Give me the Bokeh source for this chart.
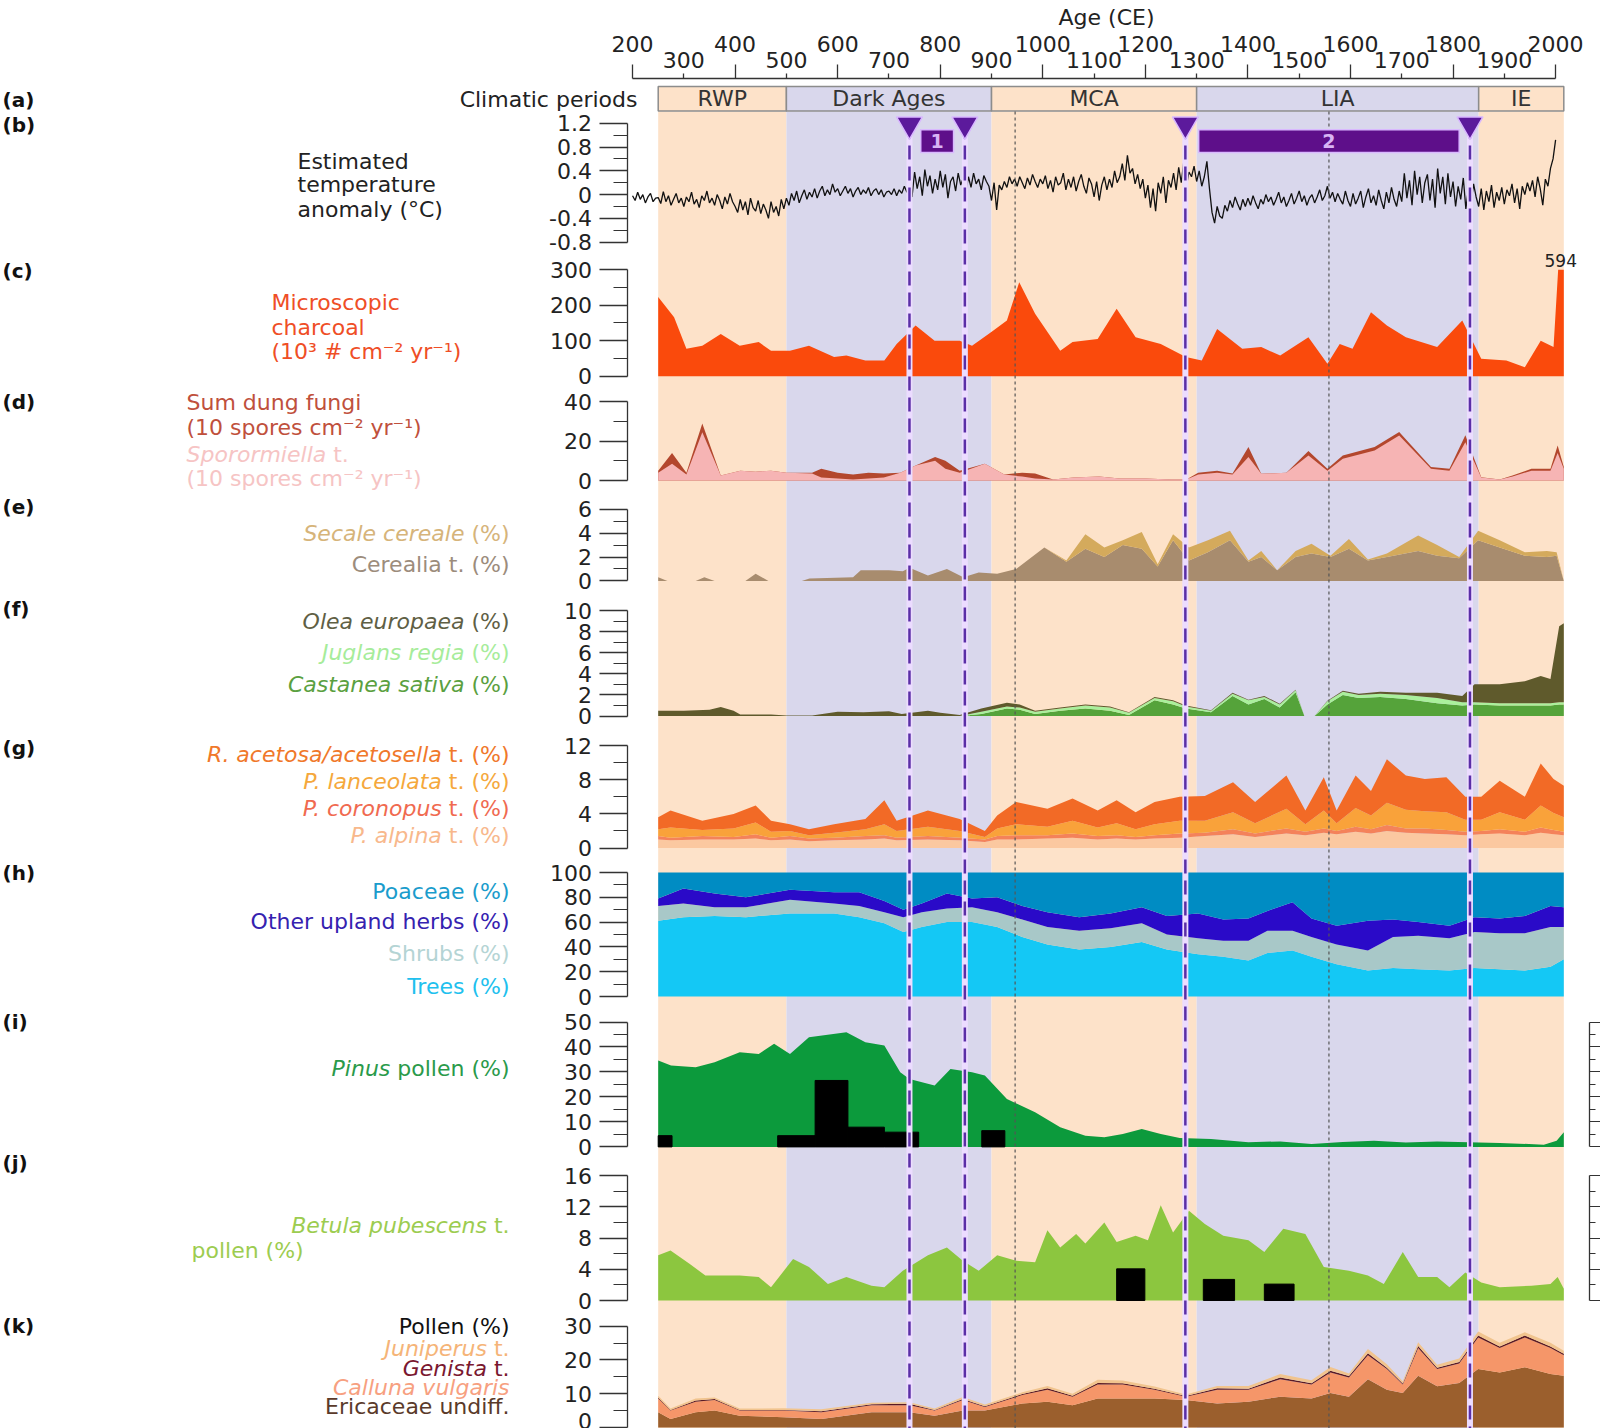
import numpy as np
from bokeh.plotting import figure
from bokeh.models import Range1d, LinearAxis, FixedTicker, BoxAnnotation, Label, ColumnDataSource
from bokeh.embed import file_html
from bokeh.resources import INLINE
from bokeh.core.properties import value

FONT = "DejaVu Sans"
WARM = "#fde2c9"
COLD = "#d9d7ec"
AX = "#333333"

# ---------------------------------------------------------------- data
age_major = [200, 400, 600, 800, 1000, 1200, 1400, 1600, 1800, 2000]
age_minor = [300, 500, 700, 900, 1100, 1300, 1500, 1700, 1900]

period_names = ["RWP", "Dark Ages", "MCA", "LIA", "IE"]
period_start = [250, 500, 900, 1300, 1850]
period_end = [500, 900, 1300, 1850, 2016]
period_warm = [True, False, True, False, True]

event_years = [740, 848, 1278, 1833]
event_box_start = [762, 1304]
event_box_end = [826, 1812]
event_box_label = ["1", "2"]
dotted_years = [946, 1558]

temp_year = list(range(200, 2001, 5))
temp_anom = [
    -0.02, -0.10, 0.04, -0.08, 0.00, -0.14, -0.04, 0.02, -0.12, -0.06,
    -0.05, -0.15, 0.05, -0.12, -0.02, -0.18, -0.08, 0.02, -0.14, -0.06,
    -0.20, -0.04, -0.12, 0.04, -0.16, -0.08, -0.22, -0.02, -0.10, 0.06,
    -0.14, -0.06, -0.18, 0.00, -0.10, -0.24, -0.04, -0.16, 0.02, -0.12,
    -0.20, -0.30, -0.08, -0.26, -0.12, -0.34, -0.06, -0.22, -0.28, -0.10,
    -0.32, -0.16, -0.26, -0.40, -0.12, -0.30, -0.20, -0.36, -0.08, -0.24,
    -0.06, -0.18, 0.02, -0.10, 0.06, -0.14, -0.02, 0.08, -0.08, 0.04,
    -0.04, 0.10, -0.06, 0.06, 0.14, -0.02, 0.08, 0.00, 0.18, 0.04,
    0.10, -0.02, 0.06, 0.14, 0.02, 0.10, -0.04, 0.06, 0.12, 0.00,
    0.08, 0.02, 0.12, -0.02, 0.06, 0.10, 0.00, 0.08, -0.04, 0.04,
    0.06, 0.00, 0.10, -0.02, 0.08, 0.02, 0.14, 0.04, 0.10, -0.04,
    0.38, 0.10, 0.30, -0.02, 0.42, 0.14, 0.32, 0.02, 0.26, 0.08,
    0.40, 0.12, 0.34, -0.06, 0.22, 0.30, 0.06, 0.36, 0.16, 0.28,
    0.04, 0.30, 0.12, 0.36, 0.18, 0.26, 0.08, 0.32, 0.22, 0.14,
    -0.10, 0.20, -0.26, 0.16, 0.08, 0.22, 0.12, 0.30, 0.18, 0.26,
    0.14, 0.30, 0.20, 0.10, 0.28, 0.16, 0.34, 0.22, 0.12, 0.26,
    0.18, 0.32, 0.10, 0.24, 0.04, 0.30, 0.16, 0.20, 0.36, 0.08,
    0.26, 0.12, 0.30, 0.06, 0.22, 0.34, 0.14, 0.02, 0.28, 0.18,
    -0.04, 0.22, -0.10, 0.16, 0.30, 0.08, 0.26, 0.12, 0.40, 0.20,
    0.30, 0.52, 0.24, 0.66, 0.36, 0.44, 0.18, 0.34, 0.10, 0.26,
    -0.06, 0.16, -0.22, 0.10, -0.28, 0.20, 0.02, 0.30, -0.14, 0.24,
    0.12, 0.36, 0.08, 0.46, 0.20, 0.56, 0.14, 0.38, 0.30, 0.48,
    0.22, 0.40, 0.14, 0.30, 0.56, 0.10, -0.30, -0.48, -0.20, -0.36,
    -0.40, -0.18, -0.28, -0.10, -0.22, -0.04, -0.16, -0.26, -0.08, -0.20,
    -0.06, -0.18, -0.02, -0.14, -0.24, -0.08, -0.16, 0.00, -0.12, -0.04,
    -0.18, -0.08, 0.04, -0.14, -0.04, -0.20, -0.10, 0.02, -0.16, -0.06,
    0.06, -0.12, -0.02, -0.18, -0.06, 0.00, -0.14, -0.04, 0.08, -0.10,
    -0.02, 0.14, -0.06, 0.04, -0.12, 0.02, -0.08, -0.16, 0.06, -0.10,
    -0.20, 0.02, -0.16, -0.06, 0.06, -0.22, -0.04, 0.10, -0.14, -0.02,
    -0.18, 0.08, -0.10, -0.24, 0.04, -0.14, 0.12, -0.08, -0.20, 0.06,
    -0.12, 0.36, -0.06, 0.24, -0.18, 0.40, 0.00, 0.30, -0.14, 0.20,
    0.34, -0.10, 0.26, -0.22, 0.44, 0.02, 0.30, -0.16, 0.36, -0.04,
    0.22, -0.20, 0.14, -0.08, 0.28, -0.24, 0.10, -0.14, 0.18, -0.04,
    -0.20, 0.10, -0.26, 0.06, -0.12, 0.16, -0.22, 0.04, -0.10, 0.12,
    -0.16, 0.08, -0.02, 0.18, -0.14, 0.10, -0.24, 0.14, 0.00, 0.20,
    0.06, 0.24, -0.04, 0.30, 0.10, -0.18, 0.26, 0.14, 0.44, 0.60,
    0.92,
]

charcoal_year = [250, 281, 305, 336, 372, 409, 446, 470, 507, 544,
                 593, 617, 654, 691, 715, 752, 789, 838, 862, 899,
                 930, 954, 985, 1034, 1058, 1107, 1144, 1181, 1230, 1279,
                 1310, 1340, 1389, 1426, 1463, 1518, 1555, 1579, 1604, 1640,
                 1671, 1708, 1769, 1818, 1855, 1904, 1940, 1971, 1996, 2005, 2016]
charcoal = [223, 166, 77, 86, 119, 86, 96, 72, 72, 86,
            54, 58, 44, 44, 91, 143, 100, 100, 86, 124,
            157, 265, 176, 72, 96, 105, 190, 110, 91, 54,
            44, 133, 77, 82, 58, 110, 35, 91, 77, 180,
            143, 110, 82, 157, 49, 44, 25, 100, 82, 594, 594]
charcoal_axis_max = 300

dung_year = [250, 277, 305, 336, 372, 410, 440, 470, 500, 550,
             568, 600, 630, 660, 690, 722, 752, 790, 810, 838,
             887, 925, 960, 985, 1020, 1060, 1110, 1150, 1200, 1250,
             1280, 1303, 1340, 1370, 1401, 1426, 1475, 1518, 1555, 1585,
             1647, 1695, 1757, 1793, 1824, 1855, 1891, 1916, 1953, 1990,
             2004, 2016]
dung_sum = [5, 14, 4, 29, 2.5, 5, 4.5, 5, 4, 4,
            6, 4, 3, 4, 3.5, 4, 7.6, 12, 10, 5,
            8.5, 3, 4, 3.5, 0.5, 1.5, 2, 1, 1, 0.5,
            0.5, 4, 5, 3.5, 17, 3.4, 4, 15, 6, 12.7,
            17, 24.6, 6.8, 6, 23, 1.7, 0.5, 2.5, 6, 6,
            17.8, 6.8]
sporormiella = [4, 8.5, 3, 24.5, 2.5, 5, 4.5, 5, 4, 3.5,
                1.5, 1, 0.5, 1, 1.5, 4, 7.6, 10, 6, 4,
                8.5, 3, 2, 1, 0.5, 1.5, 2, 1, 1, 0.5,
                0.5, 3, 4, 3, 12, 3.4, 4, 12.7, 5, 11,
                15.3, 22.9, 6, 5, 19.5, 1.5, 0.5, 2, 5, 5,
                14, 6]

cereal_year = [250, 268, 323, 340, 360, 420, 440, 465, 530, 545,
               630, 645, 700, 727, 740, 776, 813, 845, 875, 911,
               948, 1003, 1046, 1083, 1120, 1156, 1193, 1224, 1254, 1285,
               1322, 1365, 1401, 1426, 1457, 1493, 1524, 1561, 1597, 1634,
               1671, 1732, 1769, 1812, 1849, 1891, 1940, 1983, 2002, 2016]
cerealia = [0.3, 0, 0, 0.3, 0, 0, 0.6, 0, 0, 0.2,
            0.3, 0.9, 0.9, 0.8, 1.1, 0.45, 1.0, 0.3, 0.7, 0.6,
            1.0, 2.8, 1.6, 2.7, 2.0, 3.0, 2.7, 1.2, 3.4, 1.7,
            2.4, 3.4, 1.6, 2.0, 0.9, 2.0, 2.3, 2.0, 2.7, 1.7,
            2.0, 2.5, 2.1, 1.9, 3.4, 2.8, 2.1, 2.0, 2.1, 0]
secale = [0, 0, 0, 0, 0, 0, 0, 0, 0, 0,
          0, 0, 0, 0, 0, 0, 0, 0, 0, 0,
          0, 0, 0.1, 1.2, 0.8, 0.4, 1.4, 0.2, 0.5, 1.1,
          1.0, 0.8, 0.1, 0.5, 0, 0.5, 0.8, 0.1, 0.8, 0.1,
          0.3, 1.3, 0.9, 0.1, 0.8, 0.6, 0.3, 0.5, 0.3, 0]

crop_tree_year = [250, 300, 350, 372, 397, 410, 470, 500, 550, 600,
                  650, 700, 725, 776, 800, 838, 880, 930, 955, 985,
                  1034, 1083, 1131, 1168, 1218, 1254, 1279, 1328, 1370, 1401,
                  1432, 1462, 1493, 1510, 1530, 1555, 1585, 1616, 1658, 1708,
                  1769, 1818, 1842, 1891, 1940, 1971, 1990, 2007, 2016]
castanea = [0, 0, 0, 0, 0, 0, 0, 0, 0, 0,
            0, 0, 0, 0, 0, 0, 0.2, 0.7, 0.6, 0.2,
            0.5, 0.7, 0.5, 0.1, 1.5, 1.1, 0.7, 0.35, 1.9, 1.1,
            1.6, 0.8, 2.25, 0, 0, 1.1, 2.0, 1.7, 1.8, 1.6,
            1.2, 1.0, 1.1, 1.0, 1.0, 1.0, 1.0, 1.1, 1.1]
juglans = [0, 0, 0, 0, 0, 0, 0, 0, 0, 0,
           0, 0, 0, 0, 0, 0, 0.2, 0.2, 0.2, 0.2,
           0.2, 0.3, 0.3, 0.2, 0.2, 0.3, 0.2, 0.15, 0.2, 0.4,
           0.2, 0.3, 0.2, 0, 0, 0.3, 0.3, 0.3, 0.3, 0.4,
           0.5, 0.3, 0.2, 0.2, 0.2, 0.2, 0.2, 0.2, 0.2]
olea = [0.5, 0.5, 0.6, 0.85, 0.5, 0.15, 0.15, 0.05, 0.05, 0.4,
        0.35, 0.45, 0.2, 0.5, 0.3, 0.1, 0.3, 0.35, 0.3, 0.1,
        0.1, 0.1, 0.1, 0.05, 0.1, 0.1, 0.1, 0.05, 0.1, 0.05,
        0.1, 0.05, 0.05, 0, 0, 0.05, 0.1, 0.1, 0.2, 0.2,
        0.5, 0.6, 1.7, 1.8, 2.1, 2.6, 2.3, 7.2, 7.5]

herb_year = [250, 274, 336, 397, 440, 470, 507, 544, 593, 654,
             691, 715, 776, 838, 887, 911, 948, 1009, 1058, 1107,
             1144, 1181, 1218, 1267, 1316, 1371, 1414, 1475, 1512, 1548,
             1573, 1610, 1640, 1671, 1708, 1745, 1787, 1824, 1855, 1891,
             1940, 1971, 1996, 2016]
p_alpina = [1.0, 0.9, 1.0, 1.0, 1.1, 0.9, 1.0, 0.8, 0.9, 1.0,
            1.1, 0.9, 1.0, 0.9, 0.7, 1.0, 1.0, 1.1, 1.2, 1.0,
            1.1, 1.0, 1.1, 1.2, 1.4, 1.6, 1.3, 1.7, 1.5, 1.8,
            1.6, 1.9, 1.7, 2.0, 1.8, 1.7, 1.6, 1.5, 1.6, 1.7,
            1.5, 1.8, 1.6, 1.5]
p_coronopus = [0.4, 0.3, 0.4, 0.3, 0.5, 0.3, 0.4, 0.3, 0.3, 0.4,
               0.4, 0.3, 0.4, 0.3, 0.3, 0.4, 0.5, 0.4, 0.5, 0.4,
               0.4, 0.3, 0.4, 0.5, 0.4, 0.6, 0.4, 0.6, 0.4, 0.5,
               0.4, 0.6, 0.5, 0.7, 0.5, 0.6, 0.5, 0.4, 0.4, 0.5,
               0.4, 0.6, 0.5, 0.4]
p_lanceolata = [0.8, 1.2, 0.7, 1.0, 1.4, 0.7, 0.6, 0.4, 0.6, 0.8,
                1.3, 0.8, 1.1, 0.8, 0.3, 0.9, 1.3, 1.0, 1.5, 1.0,
                1.4, 0.9, 1.3, 1.5, 1.4, 2.0, 1.2, 2.3, 0.9, 2.1,
                0.9, 2.2, 1.6, 2.6, 2.2, 2.0, 2.1, 1.4, 1.3, 2.0,
                1.4, 2.6, 2.0, 1.7]
r_acetosa = [1.4, 2.0, 1.1, 1.7, 2.0, 1.3, 0.8, 0.7, 1.0, 1.2,
             2.8, 1.2, 1.9, 1.4, 0.7, 1.5, 2.6, 2.1, 2.6, 2.0,
             2.7, 2.0, 2.6, 2.8, 2.9, 3.5, 2.5, 3.9, 1.6, 3.9,
             1.5, 3.8, 2.9, 5.1, 4.0, 3.8, 4.1, 2.7, 2.7, 3.7,
             2.7, 4.9, 4.0, 3.7]

veg_year = [250, 299, 360, 421, 507, 593, 642, 691, 728, 764,
            813, 862, 911, 960, 1009, 1071, 1132, 1193, 1242, 1303,
            1352, 1401, 1438, 1487, 1524, 1573, 1634, 1683, 1732, 1793,
            1842, 1891, 1940, 1990, 2016]
trees = [61, 64, 65, 64, 67, 67, 64, 59, 52, 56,
         60, 60, 56, 48, 42, 38, 40, 44, 38, 34,
         32, 29, 35, 37, 32, 26, 21, 23, 22, 21,
         23, 22, 21, 24, 30]
shrubs = [12, 11, 7, 8, 11, 8, 9, 9, 12, 12,
          11, 12, 12, 14, 14, 15, 15, 15, 12, 13,
          13, 16, 18, 16, 16, 16, 16, 25, 27, 26,
          29, 29, 30, 32, 26]
upland_herbs = [6, 12, 11, 8, 8, 9, 11, 9, 6, 7,
                12, 7, 12, 11, 12, 11, 12, 13, 15, 20,
                17, 18, 16, 23, 15, 15, 24, 14, 11, 10,
                12, 12, 14, 17, 16]
poaceae = [21, 13, 17, 20, 14, 16, 16, 23, 30, 25,
           17, 21, 20, 27, 32, 36, 33, 28, 35, 33,
           38, 37, 31, 24, 37, 43, 39, 38, 40, 43,
           36, 37, 35, 27, 28]

pinus_year = [250, 275, 323, 360, 409, 446, 476, 507, 544, 617,
              654, 691, 722, 740, 789, 820, 862, 887, 930, 985,
              1034, 1083, 1120, 1156, 1193, 1230, 1267, 1328, 1401, 1463,
              1524, 1585, 1646, 1708, 1769, 1830, 1891, 1977, 2002, 2016]
pinus = [34.6, 32.6, 31.9, 33.9, 37.9, 37.2, 41.3, 37.2, 43.9, 45.9,
         41.9, 40.6, 29.9, 27.2, 24.6, 31.2, 29.9, 28.6, 19.2, 13.9,
         7.9, 4.5, 3.9, 5.2, 7.2, 5.2, 3.6, 3.2, 1.9, 2.2,
         1.2, 2.0, 2.5, 1.8, 2.2, 1.9, 1.6, 0.9, 2.5, 5.9]
pinus_bar_start = [250, 483, 556, 620, 691, 881]
pinus_bar_end = [277, 556, 620, 691, 758, 926]
pinus_bar_value = [4.5, 4.5, 26.6, 7.9, 5.9, 6.5]

betula_year = [250, 274, 311, 342, 409, 446, 470, 513, 544, 581,
               617, 666, 691, 727, 776, 813, 844, 875, 911, 948,
               985, 1009, 1034, 1065, 1083, 1120, 1144, 1181, 1205, 1230,
               1254, 1285, 1316, 1352, 1401, 1432, 1469, 1512, 1548, 1597,
               1634, 1665, 1702, 1732, 1769, 1793, 1824, 1855, 1891, 1953,
               1990, 2004, 2016]
betula = [5.8, 6.4, 4.7, 3.2, 3.2, 3.0, 1.7, 5.3, 4.3, 2.1,
          3.0, 1.9, 1.7, 3.8, 5.8, 6.8, 5.1, 3.8, 5.8, 5.1,
          4.9, 9.0, 6.8, 8.5, 7.3, 10.0, 7.5, 8.3, 7.7, 12.2,
          8.7, 11.5, 9.8, 8.3, 7.7, 6.2, 9.2, 8.5, 4.3, 3.8,
          3.2, 2.1, 6.2, 3.0, 3.0, 1.7, 3.6, 2.3, 1.7, 1.9,
          2.1, 3.0, 1.5]
betula_bar_start = [1144, 1313, 1432]
betula_bar_end = [1199, 1374, 1490]
betula_bar_value = [4.05, 2.7, 2.1]

heath_year = [250, 274, 323, 360, 409, 495, 568, 666, 740, 789,
              844, 887, 960, 1009, 1058, 1107, 1156, 1218, 1279, 1340,
              1401, 1463, 1524, 1561, 1597, 1634, 1671, 1702, 1732, 1769,
              1812, 1849, 1891, 1940, 1990, 2016]
ericaceae = [4.5, 2.5, 4.5, 5, 3.5, 3, 2.5, 4.5, 4.5, 3.5,
             5, 5, 7.1, 7.6, 6.6, 8.6, 8.6, 8.6, 8.1, 7.1,
             7.6, 9.1, 8.6, 10.2, 9.1, 14.3, 11.2, 10.2, 15.3, 12.2,
             13.2, 17.3, 16.3, 17.8, 15.8, 15.3]
calluna = [4.1, 2.5, 3.1, 3.1, 1.5, 2.0, 2.0, 2.1, 2.1, 1.5,
           3.1, 1.1, 2.5, 3.6, 2.5, 4.1, 4.1, 2.6, 1.0, 4.1,
           3.6, 5.2, 4.1, 6.1, 5.7, 7.1, 6.1, 2.5, 8.2, 5.1,
           5.7, 9.3, 7.2, 8.8, 7.7, 6.1]
genista = [0.3, 0.2, 0.4, 0.3, 0.2, 0.2, 0.3, 0.3, 0.4, 0.2,
           0.3, 0.2, 0.3, 0.4, 0.3, 0.5, 0.4, 0.3, 0.2, 0.4,
           0.3, 0.5, 0.4, 0.5, 0.4, 0.6, 0.4, 0.3, 0.6, 0.4,
           0.5, 0.6, 0.5, 0.6, 0.5, 0.4]
juniperus = [0.5, 0.4, 0.6, 0.5, 0.4, 0.5, 0.6, 0.4, 0.5, 0.4,
             0.6, 0.5, 0.5, 0.7, 0.6, 0.9, 0.8, 0.6, 0.5, 0.7,
             0.8, 1.0, 0.9, 1.1, 0.8, 1.2, 1.0, 0.7, 1.1, 0.9,
             1.0, 1.2, 1.1, 1.0, 1.1, 0.9]

# ---------------------------------------------------------------- layout helpers
# One figure whose frame is the whole page; each panel has its own y range.
# The default y range is in (negated) page pixels and is only used for placing texts and frames.
PX_PER_YEAR = 0.5128
PX_AT_500 = 785.9
FIG_W = 1600
FIG_H = 1428


def px_to_year(px):
    return 500 + (px - PX_AT_500) / PX_PER_YEAR


def PY(py):
    return -py


LEFT_AXIS_AT = px_to_year(626.5)
RIGHT_AXIS_AT = px_to_year(1588.5)
SHADE_TOP = 111
MARKER_TOP = 124

p = figure(x_range=Range1d(px_to_year(0), px_to_year(FIG_W)), y_range=Range1d(-FIG_H, 0),
           frame_width=FIG_W, frame_height=FIG_H, x_axis_location=None, y_axis_location=None,
           output_backend="svg", toolbar_location=None, min_border=0)
p.outline_line_color = None
p.background_fill_color = "white"
p.border_fill_color = "white"
p.xgrid.visible = False
p.ygrid.visible = False

ranges = {}


def panel(name, cal):
    v_lo, y_lo, v_hi, y_hi = cal
    k = (y_lo - y_hi) / (v_hi - v_lo)
    ranges[name] = Range1d(v_lo - (FIG_H - y_lo) / k, v_lo + y_lo / k)
    p.extra_y_ranges = dict(ranges)


DV = {' ': 0.318, 't': 0.392, '.': 0.318, '(': 0.390, ')': 0.390, '%': 0.950,
      'p': 0.635, 'o': 0.612, 'l': 0.278, 'e': 0.615, 'n': 0.634, 'S': 0.635,
      'r': 0.411, 'm': 0.974, 'i': 0.278, 'a': 0.613}


def text_w(s, size):
    return sum(DV.get(c, 0.6) for c in s) * size


def left_axis(name, ticks, minor, bounds, overrides=None):
    ax = LinearAxis(y_range_name=name, ticker=FixedTicker(ticks=ticks, minor_ticks=minor),
                    bounds=bounds, fixed_location=LEFT_AXIS_AT,
                    axis_line_color=AX, axis_line_width=1.3,
                    major_tick_line_color=AX, major_tick_line_width=1.3,
                    minor_tick_line_color=AX, minor_tick_line_width=1.1,
                    major_tick_in=0, major_tick_out=28, minor_tick_in=0, minor_tick_out=14,
                    major_label_standoff=7, major_label_text_font=FONT,
                    major_label_text_font_size="22px", major_label_text_color="#222")
    if overrides:
        ax.major_label_overrides = overrides
    p.add_layout(ax, "left")


def right_axis(name, ticks, minor, bounds):
    ax = LinearAxis(y_range_name=name, ticker=FixedTicker(ticks=ticks, minor_ticks=minor),
                    bounds=bounds, fixed_location=RIGHT_AXIS_AT,
                    axis_line_color=AX, axis_line_width=1.3,
                    major_tick_line_color=AX, minor_tick_line_color=AX,
                    major_tick_in=0, major_tick_out=12, minor_tick_in=0, minor_tick_out=6,
                    major_label_standoff=0, major_label_text_font=FONT,
                    major_label_text_font_size="22px",
                    major_label_overrides={t: "" for t in ticks})
    p.add_layout(ax, "right")


def txt(px, py, s, color="#222", size=22, style="normal", align="left"):
    p.add_layout(Label(x=px_to_year(px), y=PY(py), text=s, text_font=FONT,
                       text_font_size=f"{size}px", text_font_style=style,
                       text_color=color, text_align=align, text_baseline="middle"))


def txt_right(px, py, segs, color, size=22):
    x = px
    for s, style in reversed(segs):
        txt(x, py, s.strip(), color, size, style, "right")
        x -= text_w(s, size)


def txt_left(px, py, segs, color, size=22):
    x = px
    for s, style in segs:
        lead = len(s) - len(s.lstrip())
        x += lead * DV[' '] * size
        t = s.strip()
        txt(x, py, t, color, size, style, "left")
        x += text_w(t, size)


def letter(py, s):
    txt(2, py, s, "#111", 20, "bold", "left")


# ---------------------------------------------------------------- period shading
for s, e, w in zip(period_start, period_end, period_warm):
    p.add_layout(BoxAnnotation(left=s, right=e, top=PY(SHADE_TOP), bottom=PY(FIG_H),
                               fill_color=WARM if w else COLD, fill_alpha=1,
                               line_color=None, level="underlay"))

# ---------------------------------------------------------------- (a) periods + age axis
ax1 = LinearAxis(ticker=FixedTicker(ticks=age_minor, minor_ticks=age_major), bounds=(200, 2000),
                 fixed_location=PY(77.8),
                 axis_line_color=AX, axis_line_width=1.3,
                 major_tick_line_color=AX, minor_tick_line_color=AX,
                 major_tick_line_width=1.3, minor_tick_line_width=1.3,
                 major_tick_in=0, major_tick_out=5, minor_tick_in=0, minor_tick_out=14,
                 major_label_standoff=-4, major_label_text_font=FONT,
                 major_label_text_font_size="22px", major_label_text_color="#222")
p.add_layout(ax1, "above")
ax2 = LinearAxis(ticker=FixedTicker(ticks=age_major, minor_ticks=[]), bounds=(200, 2000),
                 fixed_location=PY(51),
                 axis_line_color=None, major_tick_line_color=None, minor_tick_line_color=None,
                 major_tick_in=0, major_tick_out=0, minor_tick_in=0, minor_tick_out=0,
                 major_label_standoff=0, major_label_text_font=FONT,
                 major_label_text_font_size="22px", major_label_text_color="#222")
p.add_layout(ax2, "above")
p.quad(left=period_start, right=period_end, bottom=PY(110.5), top=PY(86),
       fill_color=[WARM if w else COLD for w in period_warm],
       line_color="#8c8c8c", line_width=1.5)
p.text(x=[(s + e) / 2 for s, e in zip(period_start, period_end)], y=PY(98.3), text=period_names,
       text_align="center", text_baseline="middle", text_font=value(FONT),
       text_font_size=value("22px"), text_color="#333333")
txt(1106, 17.4, "Age (CE)", "#222", 22, "normal", "center")
letter(99, "(a)")
txt(637, 99, "Climatic periods", "#222", 22, "normal", "right")

# ---------------------------------------------------------------- (b) temperature
panel("b", (-0.8, 241.6, 1.2, 122.8))
left_axis("b", [-0.8, -0.4, 0, 0.4, 0.8, 1.2], [-0.6, -0.2, 0.2, 0.6, 1.0], (-0.8, 1.2),
          {-0.8: "-0.8", -0.4: "-0.4", 0: "0", 0.4: "0.4", 0.8: "0.8", 1.2: "1.2"})
p.line(temp_year, temp_anom, color="#111111", line_width=1.3, y_range_name="b")
letter(124, "(b)")
txt(297, 160.7, "Estimated")
txt(297, 184.2, "temperature")
txt(297, 208.8, "anomaly (°C)")

# ---------------------------------------------------------------- (c) charcoal
panel("c", (0, 375.7, 300, 269.2))
left_axis("c", [0, 100, 200, 300], [50, 150, 250], (0, 300))
p.varea(x=charcoal_year, y1=0, y2=np.minimum(charcoal, charcoal_axis_max),
        fill_color="#fa4a0c", y_range_name="c")
p.add_layout(Label(x=charcoal_year[-2] + 5, y=charcoal_axis_max, y_range_name="c",
                   text=str(max(charcoal)), text_font=FONT, text_font_size="17px",
                   text_color="#222", text_align="center", text_baseline="bottom", y_offset=3))
CH = "#ef4e26"
letter(270, "(c)")
txt(271, 302, "Microscopic", CH)
txt(271, 326.5, "charcoal", CH)
txt(271, 351, "(10³ # cm⁻² yr⁻¹)", CH)

# ---------------------------------------------------------------- (d) dung fungi
panel("d", (0, 480, 40, 401.3))
left_axis("d", [0, 20, 40], [10, 30], (0, 40))
p.varea(x=dung_year, y1=0, y2=dung_sum, fill_color="#b3472d", y_range_name="d")
p.varea(x=dung_year, y1=0, y2=sporormiella, fill_color="#f6b4b4", y_range_name="d")
letter(401, "(d)")
txt(186, 402.3, "Sum dung fungi", "#c0503c")
txt(186, 427, "(10 spores cm⁻² yr⁻¹)", "#c0503c")
txt_left(186, 453.5, [("Sporormiella", "italic"), (" t.", "normal")], "#f6c4c4")
txt(186, 478, "(10 spores cm⁻² yr⁻¹)", "#f6c4c4")

# ---------------------------------------------------------------- (e) cereals
panel("e", (0, 580.4, 6, 508.7))
left_axis("e", [0, 2, 4, 6], [1, 3, 5], (0, 6))
src_e = ColumnDataSource(dict(year=cereal_year, cerealia=cerealia, secale=secale))
p.varea_stack(stackers=["cerealia", "secale"], x="year", color=["#a88c6e", "#d4aa5c"],
              source=src_e, y_range_name="e")
letter(506, "(e)")
txt_right(509, 533, [("Secale cereale", "italic"), (" (%)", "normal")], "#d6b47a")
txt_right(509, 564, [("Cerealia t. (%)", "normal")], "#9c8c7c")

# ---------------------------------------------------------------- (f) tree crops
panel("f", (0, 715.5, 10, 610))
left_axis("f", [0, 2, 4, 6, 8, 10], [1, 3, 5, 7, 9], (0, 10))
src_f = ColumnDataSource(dict(year=crop_tree_year, castanea=castanea, juglans=juglans, olea=olea))
p.varea_stack(stackers=["castanea", "juglans", "olea"], x="year",
              color=["#55a33a", "#aaf09c", "#5f5a2c"], source=src_f, y_range_name="f")
letter(608, "(f)")
txt_right(509, 621, [("Olea europaea", "italic"), (" (%)", "normal")], "#5f5f45")
txt_right(509, 652, [("Juglans regia", "italic"), (" (%)", "normal")], "#a6ec9a")
txt_right(509, 684, [("Castanea sativa", "italic"), (" (%)", "normal")], "#5aa040")

# ---------------------------------------------------------------- (g) herbs
panel("g", (0, 847.5, 12, 745.2))
left_axis("g", [0, 4, 8, 12], [2, 6, 10], (0, 12))
src_g = ColumnDataSource(dict(year=herb_year, alp=p_alpina, cor=p_coronopus, lan=p_lanceolata, ace=r_acetosa))
p.varea_stack(stackers=["alp", "cor", "lan", "ace"], x="year",
              color=["#fbc8a0", "#f4825a", "#f9a23a", "#f26a26"], source=src_g, y_range_name="g")
letter(747, "(g)")
txt_right(509, 754, [("R. acetosa/acetosella", "italic"), (" t. (%)", "normal")], "#f0782a")
txt_right(509, 781, [("P. lanceolata", "italic"), (" t. (%)", "normal")], "#f5a83c")
txt_right(509, 807.6, [("P. coronopus", "italic"), (" t. (%)", "normal")], "#f06a50")
txt_right(509, 835, [("P. alpina", "italic"), (" t. (%)", "normal")], "#f8b88c")

# ---------------------------------------------------------------- (h) vegetation groups
panel("h", (0, 996, 100, 872))
left_axis("h", [0, 20, 40, 60, 80, 100], [10, 30, 50, 70, 90], (0, 100))
src_h = ColumnDataSource(dict(year=veg_year, trees=trees, shrubs=shrubs, herbs=upland_herbs, poa=poaceae))
p.varea_stack(stackers=["trees", "shrubs", "herbs", "poa"], x="year",
              color=["#14c8f5", "#a8c8c8", "#2a0ac8", "#008cc3"], source=src_h, y_range_name="h")
letter(872, "(h)")
txt_right(509, 890.5, [("Poaceae (%)", "normal")], "#1a9ccc")
txt_right(509, 921, [("Other upland herbs (%)", "normal")], "#3522b0")
txt_right(509, 953, [("Shrubs (%)", "normal")], "#b4d4d4")
txt_right(509, 985.7, [("Trees (%)", "normal")], "#20c0ee")

# ---------------------------------------------------------------- (i) Pinus
panel("i", (0, 1146.4, 50, 1021.5))
left_axis("i", [0, 10, 20, 30, 40, 50], [5, 15, 25, 35, 45], (0, 50))
right_axis("i", [0, 10, 20, 30, 40, 50], [5, 15, 25, 35, 45], (0, 50))
p.varea(x=pinus_year, y1=0, y2=pinus, fill_color="#0c9a3c", y_range_name="i")
p.quad(left=pinus_bar_start, right=pinus_bar_end, bottom=0, top=pinus_bar_value,
       fill_color="black", line_color="black", y_range_name="i")
letter(1021.5, "(i)")
txt_right(509, 1067.6, [("Pinus", "italic"), (" pollen (%)", "normal")], "#2a9a4a")

# ---------------------------------------------------------------- (j) Betula
panel("j", (0, 1300, 16, 1175))
left_axis("j", [0, 4, 8, 12, 16], [2, 6, 10, 14], (0, 16))
right_axis("j", [0, 4, 8, 12, 16], [2, 6, 10, 14], (0, 16))
p.varea(x=betula_year, y1=0, y2=betula, fill_color="#8cc63f", y_range_name="j")
p.quad(left=betula_bar_start, right=betula_bar_end, bottom=0, top=betula_bar_value,
       fill_color="black", line_color="black", y_range_name="j")
letter(1162, "(j)")
txt_right(509, 1225, [("Betula pubescens", "italic"), (" t.", "normal")], "#9ccc50")
txt(191, 1250, "pollen (%)", "#9ccc50")

# ---------------------------------------------------------------- (k) heath
panel("k", (0, 1427, 30, 1325.6))
left_axis("k", [0, 10, 20, 30], [5, 15, 25], (0, 30))
src_k = ColumnDataSource(dict(year=heath_year, eri=ericaceae, cal=calluna, gen=genista, jun=juniperus))
p.varea_stack(stackers=["eri", "cal", "gen", "jun"], x="year",
              color=["#9b5f2d", "#f59669", "#5a1a24", "#f1c48e"], source=src_k, y_range_name="k")
letter(1325.6, "(k)")
txt_right(509, 1325.6, [("Pollen (%)", "normal")], "#111111")
txt_right(509, 1348, [("Juniperus", "italic"), (" t.", "normal")], "#f5b478")
txt_right(509, 1367.5, [("Genista", "italic"), (" t.", "normal")], "#7a1830")
txt_right(509, 1387, [("Calluna vulgaris", "italic")], "#f7a080")
txt_right(509, 1406.4, [("Ericaceae undiff.", "normal")], "#5a3a2a")

# ---------------------------------------------------------------- vertical event / boundary lines
p.segment(x0=dotted_years, y0=PY(SHADE_TOP), x1=dotted_years, y1=PY(FIG_H),
          line_color="#555555", line_width=1.2, line_dash="3 3")
p.segment(x0=event_years, y0=PY(MARKER_TOP), x1=event_years, y1=PY(FIG_H),
          line_color="#ecdcff", line_width=6)
p.segment(x0=event_years, y0=PY(MARKER_TOP), x1=event_years, y1=PY(FIG_H),
          line_color="#5a2ea6", line_width=2.5, line_dash="14 7")

# event boxes and markers (panel b)
p.quad(left=event_box_start, right=event_box_end, bottom=0.71, top=1.09,
       fill_color="#5e0f8a", line_color="#d9b8ff", line_width=1.5, y_range_name="b")
p.text(x=[(s + e) / 2 for s, e in zip(event_box_start, event_box_end)], y=0.9, text=event_box_label,
       text_align="center", text_baseline="middle", text_font=value(FONT),
       text_font_size=value("19px"), text_font_style="bold", text_color="#d8b4f4", y_range_name="b")
p.scatter(event_years, [1.18] * len(event_years), marker="inverted_triangle", size=26,
          fill_color="#5c1a9c", line_color="#d9b8ff", line_width=1.5, y_range_name="b")

open("out.html", "w").write(file_html(p, INLINE, title="Palaeoenvironmental record"))
